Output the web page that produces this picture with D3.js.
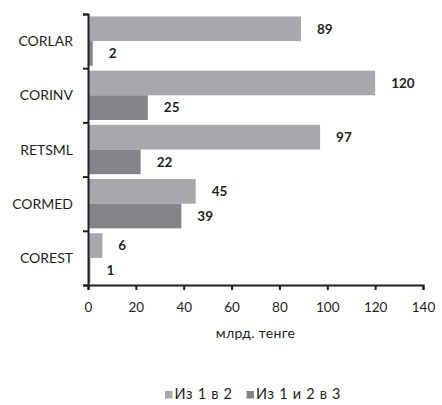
<!DOCTYPE html>
<html>
<head>
<meta charset="utf-8">
<script src="https://cdn.jsdelivr.net/npm/d3@7/dist/d3.min.js"></script>
<style>
  html, body { margin: 0; padding: 0; background: #ffffff; }
  svg { display: block; }
  text { font-family: Lato, "Open Sans", sans-serif; fill: #231f20; }
</style>
</head>
<body>
<svg id="chart" width="442" height="405"></svg>
<script>
// Segments and the two flows (billion tenge)
const categories = ["CORLAR", "CORINV", "RETSML", "CORMED", "COREST"];
const seriesNames = ["Из 1 в 2", "Из 1 и 2 в 3"];
const from1to2 = [89, 120, 97, 45, 6];
const from12to3 = [2, 25, 22, 39, 1];
const xTicks = [0, 20, 40, 60, 80, 100, 120, 140];
const xTitle = "млрд. тенге";

const colors = ["#a7a8ac", "#838487"];

const svg = d3.select("#chart");
const plotLeft = 88, plotRight = 423, plotTop = 14, plotBottom = 285;

const x = d3.scaleLinear().domain([0, 140]).range([plotLeft, plotRight]);
const y = d3.scaleBand().domain(categories).range([plotTop, plotBottom])
  .paddingInner(0.09).paddingOuter(0.045);
const ySub = d3.scaleBand().domain([0, 1]).range([0, y.bandwidth()]);

const rows = categories.map((c, i) => ({ cat: c, vals: [from1to2[i], from12to3[i]] }));

const g = svg.append("g");
const row = g.selectAll("g.row").data(rows).join("g")
  .attr("class", "row")
  .attr("transform", d => `translate(0,${y(d.cat)})`);

row.selectAll("rect").data(d => d.vals).join("rect")
  .attr("x", x(0))
  .attr("y", (v, j) => ySub(j))
  .attr("width", v => x(v) - x(0))
  .attr("height", ySub.bandwidth())
  .attr("fill", (v, j) => colors[j]);

row.selectAll("text.val").data(d => d.vals).join("text")
  .attr("class", "val")
  .attr("x", v => x(v) + 16)
  .attr("y", (v, j) => ySub(j) + ySub.bandwidth() / 2)
  .attr("dy", "0.36em")
  .attr("font-weight", "bold")
  .attr("font-size", 13.5)
  .text(v => v);

// Bottom value axis
const xAxis = svg.append("g")
  .attr("transform", `translate(0,${plotBottom})`)
  .call(d3.axisBottom(x).tickValues(xTicks).tickSize(5).tickPadding(12));
xAxis.selectAll("text").attr("font-size", 13.5).attr("font-family", "Lato, sans-serif").attr("fill", "#231f20");

// Left category axis: ticks sit on the band boundaries
const yEdge = d3.scaleLinear().domain([0, categories.length]).range([plotTop, plotBottom]);
svg.append("g")
  .attr("transform", `translate(${plotLeft},0)`)
  .call(d3.axisLeft(yEdge).tickValues(d3.range(categories.length + 1)).tickSize(5).tickFormat(""));

svg.selectAll(".domain, .tick line")
  .attr("stroke", "#231f20").attr("stroke-width", 2);

svg.append("g").selectAll("text").data(categories).join("text")
  .attr("x", 73)
  .attr("y", d => y(d) + y.bandwidth() / 2)
  .attr("dy", "0.36em")
  .attr("text-anchor", "end")
  .attr("font-size", 14)
  .text(d => d);

svg.append("text")
  .attr("x", (plotLeft + plotRight) / 2)
  .attr("y", 338)
  .attr("text-anchor", "middle")
  .attr("font-size", 14)
  .attr("letter-spacing", 0.3)
  .text(xTitle);

// Legend
const legendX = [165, 246.5];
const legend = svg.append("g").selectAll("g").data(seriesNames).join("g")
  .attr("transform", (d, i) => `translate(${legendX[i]},391)`);
legend.append("rect").attr("width", 7.5).attr("height", 7.5).attr("fill", (d, i) => colors[i]);
legend.append("text").attr("x", 9.5).attr("y", 8.4).attr("font-size", 14.5)
  .attr("letter-spacing", 0.7).text(d => d);
</script>
</body>
</html>
